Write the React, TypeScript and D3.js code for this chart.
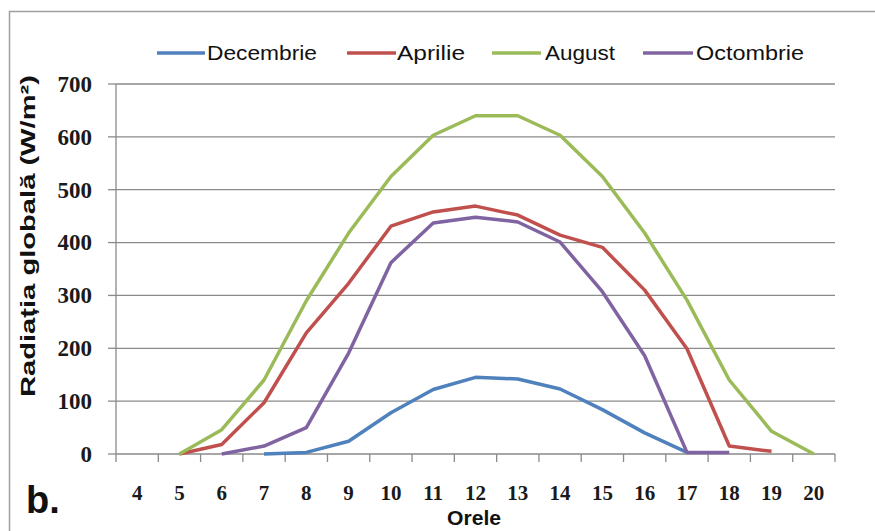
import React, { useEffect, useRef } from "react";
import * as d3 from "d3";

const hours = [4, 5, 6, 7, 8, 9, 10, 11, 12, 13, 14, 15, 16, 17, 18, 19, 20];
const yTicks = [0, 100, 200, 300, 400, 500, 600, 700];

// null = no value at that hour
const decembrie = [null, null, null, 0, 3, 24, 78, 122, 145, 142, 123, 84, 40, 3, null, null, null];
const aprilie = [null, 0, 18, 97, 229, 323, 431, 458, 469, 452, 414, 391, 310, 199, 15, 5, null];
const august = [null, 0, 46, 140, 290, 418, 525, 603, 640, 640, 603, 525, 418, 291, 140, 43, 0];
const octombrie = [null, null, 0, 15, 50, 191, 362, 437, 448, 439, 401, 307, 186, 3, 3, null, null];

const series = [
	{ name: "Decembrie", values: decembrie, color: "#4F81BD" },
	{ name: "Aprilie", values: aprilie, color: "#C0504D" },
	{ name: "August", values: august, color: "#9BBB59" },
	{ name: "Octombrie", values: octombrie, color: "#8064A2" },
];

const App: React.FC = () => {
	const svgRef = useRef<SVGSVGElement>(null);

	useEffect(() => {
		if (!svgRef.current) return;
		const svg = d3.select(svgRef.current);
		svg.selectAll("*").remove();

		const left = 116;
		const right = 835;
		const top = 84;
		const bottom = 454;
		const gridColor = "#8a8a8a";

		// chart frame (cut off at right and bottom)
		svg
			.append("path")
			.attr("d", "M9.5,600 L9.5,11.5 L900,11.5")
			.attr("fill", "none")
			.attr("stroke", "#a0a0a0")
			.attr("stroke-width", 1.5);

		const x = d3.scaleBand<number>().domain(hours).range([left, right]).padding(0);
		const y = d3.scaleLinear().domain([0, 700]).range([bottom, top]);
		const cx = (h: number) => (x(h) || 0) + x.bandwidth() / 2;

		// gridlines
		svg
			.append("g")
			.selectAll("line")
			.data(yTicks.filter((t) => t > 0))
			.join("line")
			.attr("x1", left)
			.attr("x2", right)
			.attr("y1", (d) => y(d))
			.attr("y2", (d) => y(d))
			.attr("stroke", gridColor)
			.attr("stroke-width", 1.3);

		// y axis
		svg
			.append("line")
			.attr("x1", left)
			.attr("x2", left)
			.attr("y1", top)
			.attr("y2", bottom)
			.attr("stroke", gridColor)
			.attr("stroke-width", 1.3);
		svg
			.append("g")
			.selectAll("line")
			.data(yTicks)
			.join("line")
			.attr("x1", left - 8)
			.attr("x2", left)
			.attr("y1", (d) => y(d))
			.attr("y2", (d) => y(d))
			.attr("stroke", gridColor)
			.attr("stroke-width", 1.3);
		svg
			.append("g")
			.selectAll("text")
			.data(yTicks)
			.join("text")
			.attr("x", 92)
			.attr("y", (d) => y(d))
			.attr("dy", "0.34em")
			.attr("text-anchor", "end")
			.attr("font-family", "Liberation Serif, serif")
			.attr("font-weight", "bold")
			.attr("font-size", 23)
			.attr("fill", "#1a1a1a")
			.text((d) => d);

		// x axis
		svg
			.append("line")
			.attr("x1", left)
			.attr("x2", right)
			.attr("y1", bottom)
			.attr("y2", bottom)
			.attr("stroke", gridColor)
			.attr("stroke-width", 1.3);
		const edges = hours.map((h) => x(h) || 0).concat([right]);
		svg
			.append("g")
			.selectAll("line")
			.data(edges)
			.join("line")
			.attr("x1", (d) => d)
			.attr("x2", (d) => d)
			.attr("y1", bottom)
			.attr("y2", bottom + 8)
			.attr("stroke", gridColor)
			.attr("stroke-width", 1.3);
		svg
			.append("g")
			.selectAll("text")
			.data(hours)
			.join("text")
			.attr("x", (d) => cx(d))
			.attr("y", 493)
			.attr("dy", "0.34em")
			.attr("text-anchor", "middle")
			.attr("font-family", "Liberation Serif, serif")
			.attr("font-weight", "bold")
			.attr("font-size", 21)
			.attr("fill", "#1a1a1a")
			.text((d) => d);

		// lines
		const line = d3
			.line<number | null>()
			.defined((d) => d !== null)
			.x((_, i) => cx(hours[i]))
			.y((d) => y(d as number));

		svg
			.append("g")
			.selectAll("path")
			.data(series)
			.join("path")
			.attr("d", (s) => line(s.values))
			.attr("fill", "none")
			.attr("stroke", (s) => s.color)
			.attr("stroke-width", 3.5)
			.attr("stroke-linejoin", "round");

		// legend
		const legendItems = [
			{ x1: 157, x2: 205, tx: 207, w: 110 },
			{ x1: 347, x2: 396, tx: 397, w: 68 },
			{ x1: 492, x2: 541, tx: 545, w: 70 },
			{ x1: 643, x2: 693, tx: 696, w: 108 },
		];
		const lg = svg
			.append("g")
			.selectAll("g")
			.data(series)
			.join("g");
		lg.append("line")
			.attr("x1", (_, i) => legendItems[i].x1)
			.attr("x2", (_, i) => legendItems[i].x2)
			.attr("y1", 53)
			.attr("y2", 53)
			.attr("stroke", (s) => s.color)
			.attr("stroke-width", 3.5);
		lg.append("text")
			.attr("x", (_, i) => legendItems[i].tx)
			.attr("y", 53)
			.attr("dy", "0.35em")
			.attr("font-family", "Liberation Sans Narrow, Liberation Sans, sans-serif")
			.attr("font-size", 20)
			.attr("textLength", (_, i) => legendItems[i].w)
			.attr("lengthAdjust", "spacingAndGlyphs")
			.attr("fill", "#111")
			.text((s) => s.name);

		// axis titles
		svg
			.append("text")
			.attr("transform", "translate(35,236) rotate(-90)")
			.attr("text-anchor", "middle")
			.attr("font-family", "Liberation Sans, Arial, sans-serif")
			.attr("font-weight", "bold")
			.attr("font-size", 21)
			.attr("textLength", 322)
			.attr("lengthAdjust", "spacingAndGlyphs")
			.attr("fill", "#111")
			.text("Radiația globală (W/m²)");

		svg
			.append("text")
			.attr("x", 474)
			.attr("y", 525)
			.attr("text-anchor", "middle")
			.attr("font-family", "Liberation Sans Narrow, Liberation Sans, sans-serif")
			.attr("font-weight", "bold")
			.attr("font-size", 20)
			.attr("textLength", 54)
			.attr("lengthAdjust", "spacingAndGlyphs")
			.attr("fill", "#111")
			.text("Orele");

		svg
			.append("text")
			.attr("x", 26)
			.attr("y", 513)
			.attr("font-family", "Liberation Sans, Arial, sans-serif")
			.attr("font-weight", "bold")
			.attr("font-size", 38)
			.attr("fill", "#111")
			.text("b.");
	}, []);

	return (
		<svg
			ref={svgRef}
			width={875}
			height={531}
			style={{ position: "absolute", left: 0, top: 0, background: "#fff" }}
		/>
	);
};

export default App;
